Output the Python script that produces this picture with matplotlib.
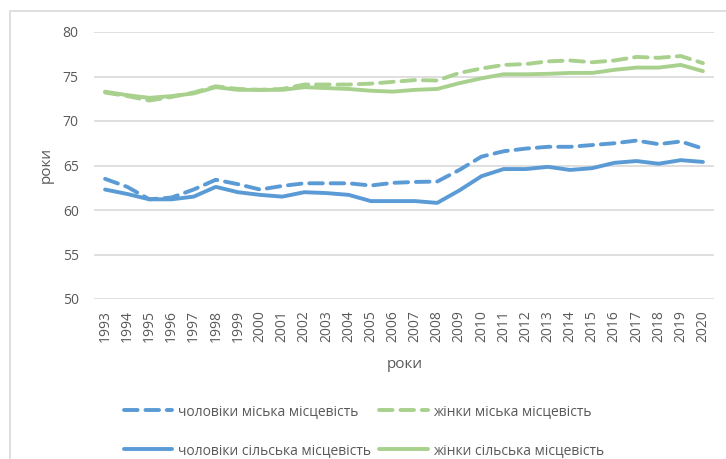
import matplotlib
matplotlib.use("Agg")
import matplotlib.pyplot as plt
from matplotlib.patches import Rectangle

# years on the category axis
years = [str(y) for y in range(1993, 2021)]

# life expectancy
men_urban = [63.5, 62.6, 61.2, 61.4, 62.3, 63.4, 62.9, 62.3, 62.7, 63.0,
             63.0, 63.0, 62.75, 63.05, 63.15, 63.2, 64.5, 66.0, 66.6, 66.9,
             67.1, 67.1, 67.3, 67.5, 67.8, 67.4, 67.7, 66.9]
women_urban = [73.2, 72.8, 72.3, 72.7, 73.2, 73.9, 73.6, 73.5, 73.6, 74.1,
               74.1, 74.1, 74.2, 74.4, 74.6, 74.55, 75.4, 75.9, 76.3, 76.4,
               76.7, 76.8, 76.6, 76.8, 77.2, 77.1, 77.3, 76.5]
men_rural = [62.3, 61.8, 61.2, 61.2, 61.5, 62.6, 62.0, 61.7, 61.5, 62.0,
             61.9, 61.7, 61.0, 61.0, 61.0, 60.8, 62.2, 63.8, 64.6, 64.6,
             64.85, 64.5, 64.7, 65.3, 65.5, 65.2, 65.6, 65.4]
women_rural = [73.3, 72.9, 72.6, 72.8, 73.1, 73.8, 73.5, 73.5, 73.5, 73.8,
               73.7, 73.6, 73.4, 73.3, 73.5, 73.6, 74.25, 74.8, 75.25, 75.25,
               75.3, 75.4, 75.4, 75.75, 76.0, 76.0, 76.3, 75.6]

labels = ["чоловіки міська місцевість", "жінки міська місцевість",
          "чоловіки сільська місцевість", "жінки сільська місцевість"]

BLUE = "#5B9BD5"
GREEN = "#A9D18E"
GREY = "#595959"

plt.rcParams['font.family'] = ['Open Sans', 'DejaVu Sans']

W, H = 726, 459
fig = plt.figure(figsize=(W / 100, H / 100), dpi=100)
ax = fig.add_axes([94 / W, 1 - 299 / H, 620 / W, 267 / H])

# outer chart border (cut off on the right and bottom)
fig.patches.append(Rectangle((10 / W, -0.1), 1.2, 1.1 - 11.5 / H,
                             transform=fig.transFigure, fill=False,
                             edgecolor="#D9D9D9", lw=1.2))

x = range(len(years))
lw = 2.8
l1, = ax.plot(x, men_urban, color=BLUE, lw=lw, dash_capstyle='round',
              solid_capstyle='round', label=labels[0])
l1.set_dashes((3.5, 2.0))
l2, = ax.plot(x, women_urban, color=GREEN, lw=lw, dash_capstyle='round',
              solid_capstyle='round', label=labels[1])
l2.set_dashes((3.5, 2.0))
l3, = ax.plot(x, men_rural, color=BLUE, lw=lw, solid_capstyle='round',
              label=labels[2])
l4, = ax.plot(x, women_rural, color=GREEN, lw=lw, solid_capstyle='round',
              label=labels[3])

ax.set_xlim(-0.5, len(years) - 0.5)
ax.set_ylim(50, 80)
ax.set_yticks(range(50, 81, 5))
ax.set_xticks(list(x))
ax.set_xticklabels(years, rotation=90)
ax.tick_params(axis='both', length=0, labelsize=10, labelcolor=GREY)
ax.tick_params(axis='y', pad=11)
ax.tick_params(axis='x', pad=8)
ax.grid(axis='y', color="#D9D9D9", lw=1.2)
ax.set_axisbelow(True)
for s in ax.spines.values():
    s.set_visible(False)

fig.text(46 / W, 1 - 165 / H, "роки", rotation=90, ha='center', va='center',
         fontsize=11, color=GREY)
fig.text(405 / W, 1 - 364 / H, "роки", ha='center', va='center',
         fontsize=11, color=GREY)

fig.legend([l1, l3, l2, l4], [labels[0], labels[2], labels[1], labels[3]],
           ncol=2, loc='center', bbox_to_anchor=(364 / W, 1 - 431 / H),
           frameon=False, fontsize=10, labelcolor=GREY, handlelength=3.5,
           handletextpad=0.4, columnspacing=0.6, labelspacing=1.7,
           borderpad=0)

fig.savefig("out.png", dpi=100)
